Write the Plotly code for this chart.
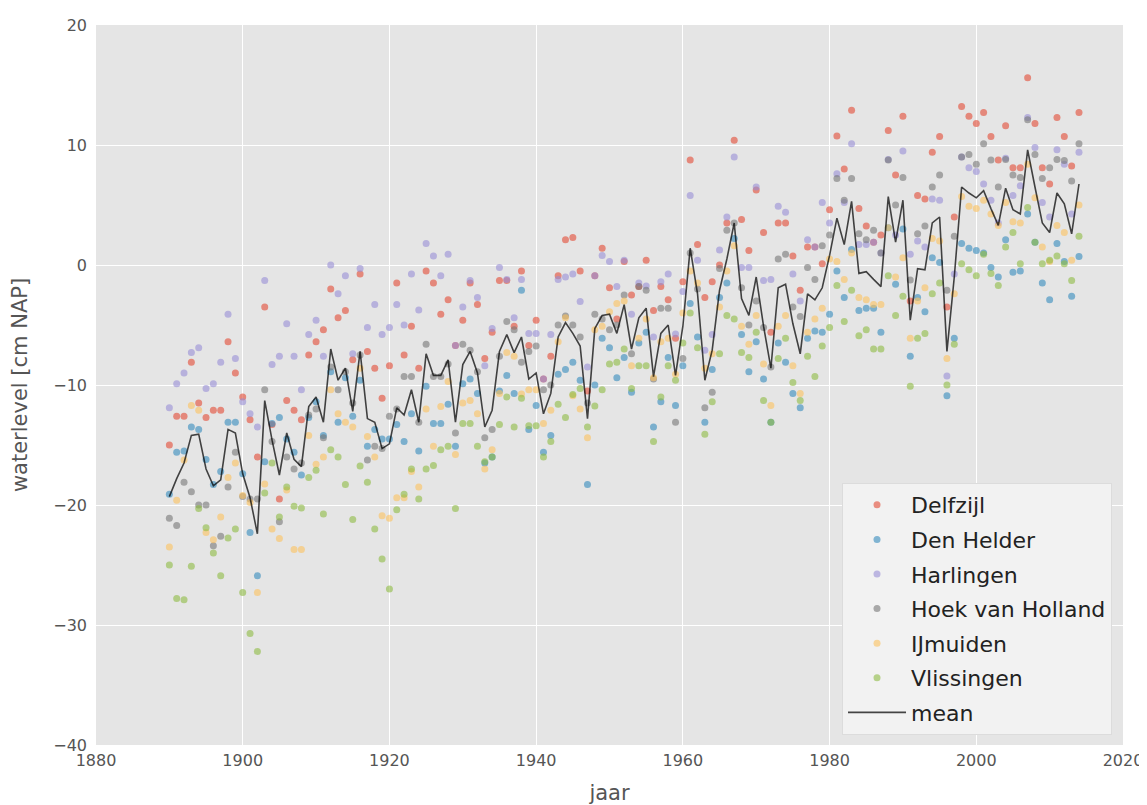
import plotly.graph_objects as go

years = list(range(1890, 2015))

delfzijl = [
    -15.0, -12.6, -12.6, -8.1, -11.5, -12.7, -12.1, -12.1, -6.4, -9.0,
    -11.0, -12.9, -16.0, -3.5, -13.3, -19.5, -11.3, -12.1, -12.9, -7.5,
    -6.4, -5.4, -2.0, -4.4, -3.8, -7.9, -0.75, -7.2, -8.6, -11.1,
    -8.4, -1.5, -7.5, -5.1, -8.6, -0.5, -1.5, -4.1, -2.9, -6.7,
    -4.6, -1.5, -3.3, -7.8, -5.6, -1.3, -1.3, -5.1, -0.5, -6.7,
    -4.6, -9.5, -7.6, -0.9, 2.1, 2.3, -0.5, -10.5, -0.9, 1.4,
    -1.9, -4.5, 0.3, -2.5, -1.8, 0.4, -3.8, -1.8, -2.9, -6.1,
    -1.4, 8.75, 1.7, -2.7, -1.4, 0.0, 3.5, 10.4, 3.8, 1.2,
    6.25, 2.7, -5.6, 3.5, 3.5, 0.75, -2.1, 1.5, 1.5, 0.1,
    4.6, 10.75, 8.0, 12.9, 4.7, 3.25, 1.9, 2.5, 11.2, 7.5,
    12.4, -3.0, 5.8, 5.5, 9.4, 10.7, -3.5, 4.0, 13.2, 12.4,
    11.8, 12.7, 10.7, 8.75, 11.6, 8.1, 8.1, 15.6, 11.8, 8.1,
    6.75, 12.3, 10.7, 8.25, 12.7,
]

den_helder = [
    -19.1, -15.6, -15.5, -13.5, -13.7, -16.2, -18.3, -17.2, -13.1, -13.1,
    -17.4, -22.3, -25.9, -16.4, -13.2, -12.7, -14.5, -15.6, -17.5, -12.7,
    -11.4, -14.2, -8.9, -13.1, -9.4, -12.6, -9.6, -15.1, -13.7, -14.5,
    -14.5, -13.3, -14.7, -12.4, -15.5, -10.1, -13.2, -13.2, -11.6, -15.1,
    -9.9, -9.5, -10.7, -16.5, -16.0, -10.5, -9.2, -10.7, -2.1, -13.7,
    -11.7, -15.6, -14.2, -9.1, -8.7, -8.1, -9.6, -18.3, -10.0, -6.1,
    -6.9, -9.4, -7.7, -10.6, -6.5, -5.6, -13.5, -11.4, -7.7, -11.7,
    -8.4, -3.2, -6.0, -13.1, -8.7, -2.7, -1.5, 2.2, -5.8, -8.9,
    -6.4, -9.5, -13.1, -6.5, -8.1, -10.7, -11.9, -6.1, -5.5, -5.6,
    -4.1, -0.5, -2.7, 1.3, -3.8, -3.6, -3.6, -5.6, 3.1, -1.6,
    3.0, -7.6, -2.7, -3.9, 0.6, 0.2, -10.9, -6.1, 1.8, 1.4,
    1.2, 1.0, -0.2, -1.0, 2.1, -0.6, -0.5, 4.25, 1.9, -1.5,
    -2.9, 1.8, 0.3, -2.6, 0.7,
]

harlingen = [
    -11.9, -9.9, -9.0, -7.3, -6.9, -10.3, -9.9, -8.1, -4.1, -7.8,
    -11.4, -12.4, -13.5, -1.3, -8.3, -7.6, -4.9, -7.6, -10.4, -5.8,
    -4.6, -7.6, 0.0, -2.4, -0.9, -7.4, -0.3, -5.2, -3.3, -5.8,
    -5.2, -3.3, -5.0, -0.75, -3.75, 1.8, 0.75, -0.9, 0.9, -6.7,
    -3.5, -1.3, -2.7, -8.4, -5.3, -0.2, -1.2, -4.4, -1.2, -5.7,
    -5.7, -9.5, -5.8, -1.2, -1.0, -0.75, -3.05, -8.5, -0.9, 0.8,
    0.3, -1.8, 0.4, -4.1, -1.5, -1.75, -6.0, -1.4, -0.75, -5.75,
    -2.2, 5.8, 0.4, -7.1, -5.8, 1.25, 4.0, 9.0, -0.2, -0.2,
    6.5, -1.3, -1.2, 4.9, 4.4, -0.75, -3.0, 2.1, 1.5, 5.2,
    3.5, 7.6, 5.2, 10.1, 1.7, 1.7, 1.9, 1.0, 8.8, 2.5,
    9.5, 0.9, 2.0, 1.5, 5.5, 5.4, -9.25, -0.75, 9.0, 8.1,
    7.8, 6.75, 5.4, 3.5, 8.9, 5.8, 6.6, 12.3, 9.8, 5.2,
    4.0, 9.6, 8.4, 4.25, 9.4,
]

hoek_van_holland = [
    -21.1, -21.7, -18.1, -18.9, -20.0, -20.0, -23.4, -22.6, -18.5, -15.6,
    -19.3, -19.5, -19.5, -10.4, -14.7, -21.4, -16.0, -17.0, -16.5, -12.5,
    -12.0, -14.4, -8.5, -10.4, -8.9, -11.5, -7.5, -16.25, -15.1, -15.3,
    -12.6, -12.0, -9.3, -9.3, -13.1, -6.6, -9.3, -9.3, -8.25, -14.0,
    -6.6, -7.1, -8.9, -14.4, -13.7, -7.6, -4.7, -5.4, -8.1, -7.2,
    -6.75, -10.4, -10.0, -5.0, -4.25, -5.0, -6.0, -11.5, -4.1, -4.5,
    -5.4, -5.0, -2.5, -7.4, -1.8, -2.1, -9.5, -3.6, -3.6, -13.1,
    -7.8, 1.0, -2.0, -11.9, -10.6, -0.3, 2.9, 3.5, -1.9, -5.0,
    -3.0, -5.2, -8.5, 0.5, 0.9, -3.5, -4.3, -0.2, -1.2, 1.6,
    2.5, 7.2, 5.4, 7.2, 2.6, 2.1, 2.9, 1.0, 8.75, 5.0,
    7.3, -1.25, 2.6, 3.25, 6.5, 7.5, -2.1, 2.4, 9.0, 9.2,
    8.4, 10.1, 8.75, 6.5, 8.8, 7.5, 7.3, 12.1, 9.2, 7.2,
    8.1, 8.8, 8.7, 7.0, 10.1,
]

ijmuiden = [
    -23.5, -19.6, -16.25, -11.7, -12.1, -22.3, -22.9, -21.0, -17.7, -16.5,
    -19.2, -19.8, -27.3, -18.25, -22.0, -22.8, -18.75, -23.7, -23.7, -14.2,
    -16.6, -16.0, -10.4, -12.4, -13.1, -13.5, -8.6, -14.3, -16.0, -20.9,
    -21.1, -19.4, -19.4, -17.2, -18.5, -12.0, -15.1, -11.8, -9.7, -15.8,
    -11.5, -11.3, -12.4, -17.0, -15.4, -10.7, -7.3, -7.6, -10.75, -10.4,
    -10.4, -13.2, -12.1, -6.4, -4.4, -10.9, -12.0, -14.4, -5.4, -5.1,
    -3.9, -3.2, -3.0, -8.4, -6.1, -4.5, -9.4, -6.4, -6.1, -9.1,
    -4.0, -0.5, -1.5, -8.6, -7.4, -3.5, -0.5, 1.6, -5.1, -6.6,
    -4.2, -8.25, -11.7, -5.1, -4.2, -8.4, -10.7, -5.6, -4.5, -3.6,
    0.5, 0.3, -1.2, 1.0, -2.7, -2.9, -3.3, -3.3, 3.1, -1.0,
    0.6, -6.1, -3.0, -1.9, 2.2, 2.0, -7.8, -2.4, 5.7, 4.9,
    4.7, 5.4, 4.25, 3.3, 5.2, 3.6, 3.5, 8.4, 5.6, 1.5,
    0.3, 3.3, 2.7, 0.4, 5.0,
]

vlissingen = [
    -25.0, -27.8, -27.9, -25.1, -20.3, -21.9, -24.0, -25.9, -22.75, -22.0,
    -27.3, -30.7, -32.2, -19.0, -16.5, -21.0, -18.5, -20.1, -20.25, -17.7,
    -17.1, -20.75, -15.4, -16.0, -18.3, -21.2, -16.75, -18.1, -22.0, -24.5,
    -27.0, -20.4, -19.1, -17.0, -19.5, -17.0, -16.7, -15.4, -15.1, -20.3,
    -13.2, -13.2, -15.1, -16.4, -16.0, -13.3, -11.0, -13.5, -11.1, -13.4,
    -13.4, -16.0, -14.7, -11.6, -12.7, -10.8, -10.3, -13.5, -11.75, -10.4,
    -8.25, -8.1, -7.0, -10.3, -8.4, -8.4, -14.7, -11.0, -8.4, -9.6,
    -6.5, -4.0, -6.9, -14.1, -11.4, -7.4, -4.2, -4.5, -7.3, -7.7,
    -5.6, -11.3, -13.1, -7.8, -6.1, -9.8, -11.3, -7.6, -9.3, -6.75,
    -5.2, -1.7, -4.7, -2.1, -5.9, -5.4, -7.0, -7.0, -0.9, -4.2,
    -2.6, -10.1, -6.1, -5.7, -2.4, -1.5, -10.0, -6.6, 0.1, -0.4,
    -0.9, 0.9, -0.7, -1.7, 1.5, 2.7, 0.1, 4.8, 1.9, 0.1,
    0.4, 0.75, 0.1, -1.3, 2.4,
]

mean_level = [
    -19.3, -17.8, -16.5, -14.2, -14.1, -17.0, -18.4, -17.9, -13.7, -14.0,
    -17.4, -19.4, -22.4, -11.3, -14.6, -17.5, -14.0, -16.2, -16.8, -11.8,
    -11.0, -13.1, -7.0, -9.6, -8.6, -12.2, -7.2, -12.8, -13.1, -15.3,
    -14.9, -11.9, -12.5, -10.4, -13.1, -7.4, -9.2, -9.2, -7.9, -13.1,
    -8.3, -7.2, -9.0, -13.5, -12.1, -7.2, -5.8, -7.3, -6.0, -9.5,
    -9.0, -12.4, -10.7, -6.0, -4.8, -5.7, -6.75, -12.8, -5.3, -4.2,
    -4.1, -5.7, -3.3, -7.0, -4.4, -3.6, -9.3, -5.7, -5.0, -9.2,
    -5.1, 1.4, -2.4, -9.6, -7.1, -2.1, 0.5, 3.5, -2.8, -4.2,
    -1.0, -5.1, -8.6, -1.9, -1.6, -4.9, -7.4, -2.4, -2.9, -1.9,
    0.8, 3.9, 1.7, 5.3, -0.7, -0.55, -1.2, -1.8, 5.7, 1.9,
    5.4, -4.6, -0.3, -0.4, 3.5, 4.0, -7.2, -1.0, 6.5, 6.0,
    5.6, 6.2, 4.7, 3.3, 6.4, 4.6, 4.25, 9.6, 6.5, 3.5,
    2.7, 6.0, 5.1, 2.6, 6.75,
]

stations = [
    ("Delfzijl", delfzijl, "#E24A33"),
    ("Den Helder", den_helder, "#348ABD"),
    ("Harlingen", harlingen, "#988ED5"),
    ("Hoek van Holland", hoek_van_holland, "#777777"),
    ("IJmuiden", ijmuiden, "#FBC15E"),
    ("Vlissingen", vlissingen, "#8EBA42"),
]

fig = go.Figure()
for name, vals, color in stations:
    fig.add_trace(go.Scatter(
        x=years, y=vals, mode="markers", name=name, legendgroup=name,
        marker=dict(color=color, size=7, opacity=0.6, line=dict(width=0)),
    ))

fig.add_trace(go.Scatter(
    x=years, y=mean_level, mode="lines", name="mean", legendgroup="mean",
    line=dict(color="rgba(0,0,0,0.72)", width=1.6),
))

fig.update_layout(
    width=1139, height=797,
    margin=dict(l=88, r=24, t=17, b=60),
    paper_bgcolor="white",
    plot_bgcolor="#E5E5E5",
    font=dict(family="DejaVu Sans", size=16, color="#555555"),
    showlegend=True,
    legend=dict(
        x=0.9893, y=0.0139, xanchor="right", yanchor="bottom",
        traceorder="grouped", tracegroupgap=3, itemwidth=58,
        bgcolor="#F2F2F2", bordercolor="#DCDCDC", borderwidth=1,
        font=dict(family="DejaVu Sans", size=22, color="#222222"),
    ),
)
fig.update_xaxes(
    range=[1880, 2020], dtick=20, tick0=1880, automargin=False,
    showgrid=True, gridcolor="white", gridwidth=1.2,
    zeroline=False, showline=False, ticks="",
    ticklabelstandoff=4,
    tickfont=dict(size=16, color="#555555"),
    title=dict(text="jaar", font=dict(size=21, color="#555555"), standoff=19),
)
fig.update_yaxes(
    range=[-40, 20], dtick=10, tick0=-40, automargin=False,
    showgrid=True, gridcolor="white", gridwidth=1.2,
    zeroline=False, showline=False, ticks="",
    ticklabelstandoff=8,
    tickfont=dict(size=16, color="#555555"),
    title=dict(text="waterlevel [cm NAP]", font=dict(size=21, color="#555555"), standoff=22),
)

fig.write_html("out.html")
